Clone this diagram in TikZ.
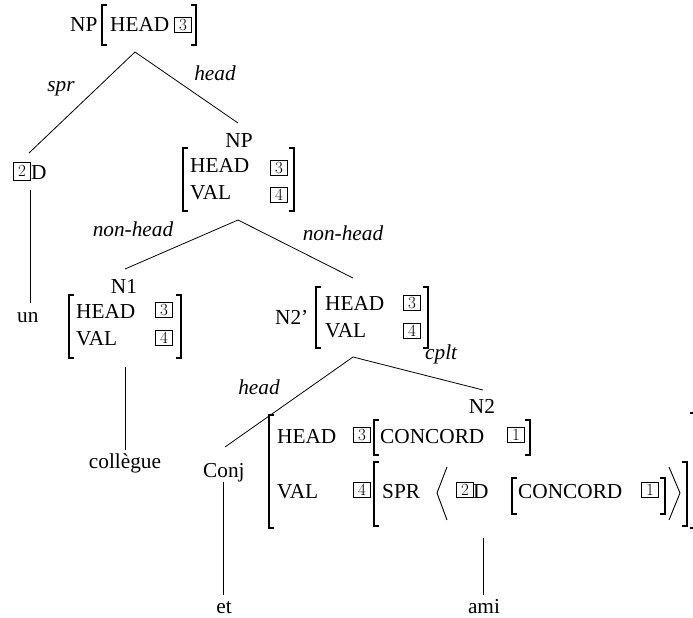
\documentclass[tikz,border=0pt]{standalone}
\usepackage{fontspec}
\setmainfont{Liberation Serif}
\newcommand\tagfont{\fontfamily{lmr}\fontsize{17}{17}\selectfont}
% square brackets of attribute-value matrices: x, top, bottom
\newcommand\avmL[3]{\draw[brk] (#1+5,#2) -- (#1,#2) -- (#1,#3) -- (#1+5,#3);}
\newcommand\avmR[3]{\draw[brk] (#1-5,#2) -- (#1,#2) -- (#1,#3) -- (#1-5,#3);}
\tikzset{
  txt/.style={inner sep=0pt, anchor=base west, font=\fontsize{21.3}{24}\selectfont},
  txtc/.style={txt, anchor=base},
  arc/.style={txtc, font=\fontsize{21.3}{24}\selectfont\itshape},
  tag/.style={draw, line width=0.6pt, inner sep=0pt, minimum width=17pt,
              minimum height=15.5pt, font=\tagfont},
  brk/.style={line width=1.2pt},
  ang/.style={line width=0.9pt},
  branch/.style={line width=0.8pt},
}
\begin{document}
\begin{tikzpicture}[x=1pt, y=-1pt]
\useasboundingbox (0,0) rectangle (693,618);

% ---- root NP [HEAD 3]
\node[txt] (np1) at (70,32) {NP};
\avmL{102}{5}{45}
\node[txt] (np1-head) at (110,32) {HEAD};
\node[tag] (np1-t3) at (183,25) {3};
\avmR{196}{5}{45}

\coordinate (np1-foot) at (135,52);
\coordinate (d-top) at (29,153);
\coordinate (np2-top) at (238,123);
\draw[branch] (np1-foot) -- (d-top);
\draw[branch] (np1-foot) -- (np2-top);
\node[arc] (l-spr) at (61,92) {spr};
\node[arc] (l-head1) at (215,81) {head};

% ---- specifier [2]D and "un"
\node[tag, minimum height=18pt] (d-t2) at (22,171) {2};
\node[txt] (d) at (31,179) {D};
\coordinate (d-foot) at (30,190);
\coordinate (un-top) at (30,303);
\draw[branch] (d-foot) -- (un-top);
\node[txt] (un) at (17,322) {un};

% ---- NP [HEAD 3, VAL 4]
\node[txtc] (np2) at (239,147) {NP};
\avmL{183}{148}{211}
\node[txt] (np2-head) at (190,172) {HEAD};
\node[tag] (np2-t3) at (279,168) {3};
\node[txt] (np2-val) at (190,199) {VAL};
\node[tag] (np2-t4) at (279,195) {4};
\avmR{294}{148}{211}

\coordinate (np2-foot) at (238,220);
\coordinate (n1-top) at (125,269);
\coordinate (n2p-top) at (353,278);
\draw[branch] (np2-foot) -- (n1-top);
\draw[branch] (np2-foot) -- (n2p-top);
\node[arc] (l-nh1) at (133,236) {non-head};
\node[arc] (l-nh2) at (343,240) {non-head};

% ---- N1
\node[txtc] (n1) at (124,293) {N1};
\avmL{69}{295}{358}
\node[txt] (n1-head) at (76,318) {HEAD};
\node[tag] (n1-t3) at (164,310) {3};
\node[txt] (n1-val) at (76,345) {VAL};
\node[tag] (n1-t4) at (164,338) {4};
\avmR{181}{295}{358}
\coordinate (n1-foot) at (125,367);
\coordinate (coll-top) at (125,450);
\draw[branch] (n1-foot) -- (coll-top);
\node[txtc] (coll) at (125,468) {collègue};

% ---- N2'
\node[txt] (n2p) at (275,324) {N2’};
\avmL{316}{287}{348}
\node[txt] (n2p-head) at (325,310) {HEAD};
\node[tag] (n2p-t3) at (412,303) {3};
\node[txt] (n2p-val) at (325,337) {VAL};
\node[tag] (n2p-t4) at (412,331) {4};
\avmR{428}{287}{348}

\coordinate (n2p-foot) at (353,357);
\coordinate (conj-top) at (225,447);
\coordinate (n2-top) at (483,390);
\draw[branch] (n2p-foot) -- (conj-top);
\draw[branch] (n2p-foot) -- (n2-top);
\node[arc] (l-head2) at (259,394) {head};
\node[txt, font=\fontsize{21.3}{24}\selectfont\itshape] (l-cplt) at (425,359) {cplt};

% ---- Conj and "et"
\node[txt] (conj) at (203,477) {Conj};
\coordinate (conj-foot) at (223,482);
\coordinate (et-top) at (223,595);
\draw[branch] (conj-foot) -- (et-top);
\node[txtc] (et) at (224,613) {et};

% ---- N2
\node[txtc] (n2) at (482,413) {N2};
\avmL{269}{415}{528}
\avmR{695}{413}{528}
\node[txt] (n2-head) at (277,443) {HEAD};
\node[tag] (n2-t3) at (362,435) {3};
\avmL{374}{420}{455}
\node[txt] (n2-conc) at (380,443) {CONCORD};
\node[tag] (n2-t1) at (516,435) {1};
\avmR{530}{420}{455}

\node[txt] (n2-val) at (277,498) {VAL};
\node[tag] (n2-t4) at (362,490) {4};
\avmL{374}{462}{526}
\node[txt] (n2-spr) at (382,498) {SPR};
\draw[ang] (447,467) -- (437,493) -- (447,520);
\node[tag] (n2-t2) at (465,490) {2};
\node[txt] (n2-d) at (473,498) {D};
\avmL{512}{478}{514}
\node[txt] (n2-conc2) at (518,498) {CONCORD};
\node[tag] (n2-t1b) at (650,490) {1};
\avmR{665}{478}{514}
\draw[ang] (669,467) -- (680,493) -- (669,520);
\avmR{687}{462}{526}

\coordinate (ami-foot) at (483,538);
\coordinate (ami-top) at (483,595);
\draw[branch] (ami-foot) -- (ami-top);
\node[txtc] (ami) at (484,613) {ami};
\end{tikzpicture}
\end{document}
